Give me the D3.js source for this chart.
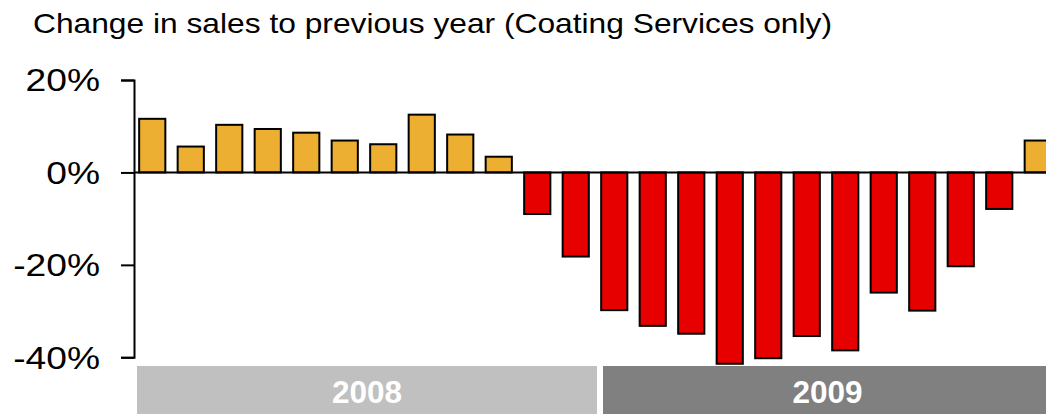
<!DOCTYPE html>
<html>
<head>
<meta charset="utf-8">
<script src="https://cdn.jsdelivr.net/npm/d3@7"></script>
<style>
  html, body { margin: 0; padding: 0; background: #fff; }
  svg { display: block; }
</style>
</head>
<body>
<svg id="chart" width="1046" height="414"></svg>
<script>
// Monthly change in sales vs. same month of the previous year, in percent
const years = ["2008", "2009"];
const months = ["Jan", "Feb", "Mar", "Apr", "May", "Jun", "Jul", "Aug", "Sep", "Oct", "Nov", "Dec"];
const values2008 = [11.6, 5.6, 10.3, 9.4, 8.6, 6.9, 6.1, 12.5, 8.2, 3.4, -9.0, -18.2];
const values2009 = [-29.8, -33.2, -34.9, -41.4, -40.2, -35.4, -38.5, -26.0, -29.9, -20.3, -7.9, 6.9];
const yTicks = [-40, -20, 0, 20];
const title = "Change in sales to previous year (Coating Services only)";

const data = [];
years.forEach((yr, yi) => {
  const vals = yi === 0 ? values2008 : values2009;
  months.forEach((m, mi) => data.push({ key: m + " " + yr, year: yr, value: vals[mi] }));
});

const W = 1046;
const svg = d3.select("#chart");
const font = "'Liberation Sans', Arial, sans-serif";

const x = d3.scaleBand()
  .domain(data.map(d => d.key))
  .range([133, 133 + 24 * 38.5])
  .paddingInner(0.32)
  .paddingOuter(0.16);

const y = d3.scaleLinear().domain([-40, 20]).range([357.3, 80]);

// Title
svg.append("text")
  .attr("x", 33).attr("y", 33)
  .attr("font-family", font).attr("font-size", 28.5)
  .attr("fill", "#000")
  .attr("textLength", 799).attr("lengthAdjust", "spacingAndGlyphs")
  .text(title);

// Bars
svg.append("g").selectAll("rect")
  .data(data)
  .join("rect")
  .attr("x", d => x(d.key))
  .attr("width", x.bandwidth())
  .attr("y", d => y(Math.max(0, d.value)))
  .attr("height", d => Math.abs(y(d.value) - y(0)))
  .attr("fill", d => d.value >= 0 ? "#EDAF32" : "#E60000")
  .attr("stroke", "#000")
  .attr("stroke-width", 2);

// Zero line
svg.append("line")
  .attr("x1", 134).attr("x2", W)
  .attr("y1", y(0)).attr("y2", y(0))
  .attr("stroke", "#000").attr("stroke-width", 2);

// Y axis
const axis = svg.append("g")
  .attr("transform", "translate(134,0)")
  .call(d3.axisLeft(y).tickValues(yTicks).tickSize(13).tickPadding(21).tickFormat(d => d + "%"));
axis.select(".domain").attr("stroke", "#000").attr("stroke-width", 2);
axis.selectAll(".tick line").attr("stroke", "#000").attr("stroke-width", 2);
axis.selectAll(".tick text")
  .attr("font-family", font).attr("font-size", 30.5)
  .attr("fill", "#000")
  .attr("dy", "0.36em")
  .each(function () {
    const w = this.getComputedTextLength();
    d3.select(this).attr("textLength", w * 1.22).attr("lengthAdjust", "spacingAndGlyphs");
  });

// Year bands along the bottom
const yb = d3.scaleBand().domain(years).range([137, 1063]).paddingInner(6 / 466);
const bandColors = { "2008": "#C0C0C0", "2009": "#808080" };
const band = svg.append("g").selectAll("g").data(years).join("g");
band.append("rect")
  .attr("x", d => yb(d)).attr("width", yb.bandwidth())
  .attr("y", 366).attr("height", 48)
  .attr("fill", d => bandColors[d]);
// labels centred on the visible part of each band
band.append("text")
  .attr("x", d => (yb(d) + Math.min(yb(d) + yb.bandwidth(), W + 6)) / 2)
  .attr("y", 403.3)
  .attr("text-anchor", "middle")
  .attr("font-family", font).attr("font-weight", "bold").attr("font-size", 31.5)
  .attr("fill", "#fff")
  .text(d => d);
</script>
</body>
</html>
